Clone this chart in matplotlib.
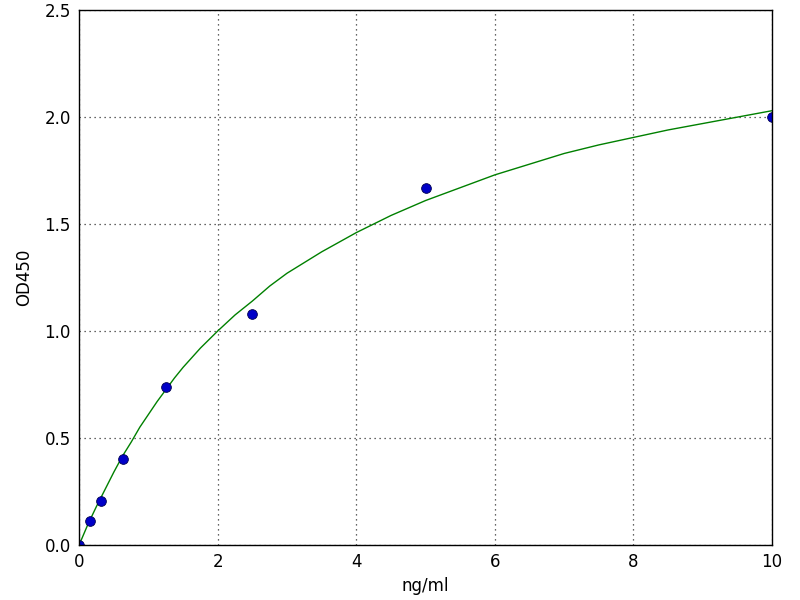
import matplotlib
matplotlib.use('Agg')
import matplotlib.pyplot as plt

# Points standards
conc = [0, 0.156, 0.3125, 0.625, 1.25, 2.5, 5, 10]
od = [0.0, 0.11, 0.205, 0.40, 0.74, 1.08, 1.67, 2.0]

# Courbe ajustée
courbe_x = [0, 0.125, 0.25, 0.375, 0.5, 0.625, 0.75, 0.875, 1, 1.125, 1.25,
            1.375, 1.5, 1.625, 1.75, 1.875, 2, 2.25, 2.5, 2.75, 3, 3.25, 3.5,
            3.75, 4, 4.25, 4.5, 4.75, 5, 5.5, 6, 6.5, 7, 7.5, 8, 8.5, 9, 9.5, 10]
courbe_y = [0.0, 0.095, 0.18, 0.26, 0.34, 0.415, 0.48, 0.55, 0.61, 0.67, 0.725,
            0.78, 0.83, 0.875, 0.92, 0.96, 1.0, 1.075, 1.14, 1.21, 1.27, 1.32,
            1.37, 1.415, 1.46, 1.50, 1.54, 1.575, 1.61, 1.67, 1.73, 1.78, 1.83,
            1.87, 1.905, 1.94, 1.97, 2.0, 2.03]

fig = plt.figure(figsize=(8, 6), dpi=100)
ax = fig.add_axes([0.099, 0.092, 0.866, 0.891])

ax.plot(courbe_x, courbe_y, c='green', lw=1)
ax.plot(conc, od, 'o', c='#0000c8', mec='#000050', mew=0.6, ms=7)

ax.set_xlim(0, 10)
ax.set_ylim(0, 2.5)
ax.set_xticks([0, 2, 4, 6, 8, 10])
ax.set_yticks([0.0, 0.5, 1.0, 1.5, 2.0, 2.5])
ax.set_yticklabels(['0.0', '0.5', '1.0', '1.5', '2.0', '2.5'])
ax.tick_params(length=0, labelsize=12, pad=6)
ax.grid(True, ls=(0, (1, 3)), c='#333333', lw=0.9)
for s in ax.spines.values():
    s.set_linewidth(1)

ax.set_xlabel('ng/ml', fontsize=12)
ax.set_ylabel('OD450', fontsize=12, labelpad=8)

fig.savefig('out.png', dpi=100)
